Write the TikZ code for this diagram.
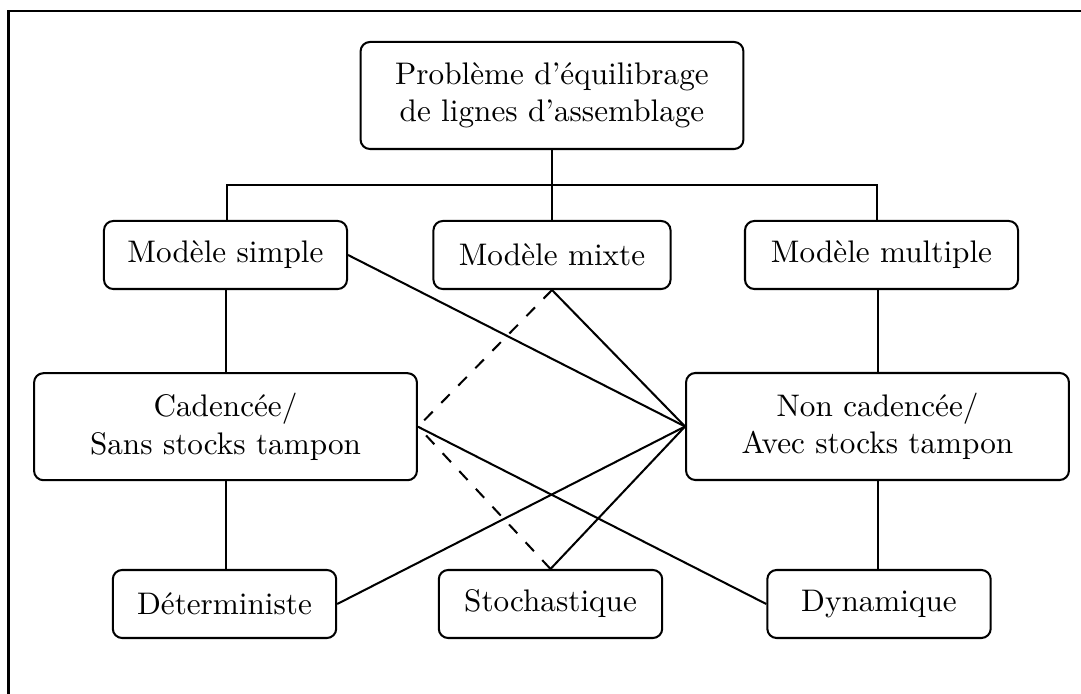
\documentclass[tikz,border=0pt]{standalone}
\usepackage{tikz}
\begin{document}
\begin{tikzpicture}[x=0.3205pt,y=-0.3205pt,
  box/.style={draw,rounded corners=3pt,line width=0.65pt,inner sep=0pt,align=center,font=\normalsize},
  wide/.style={box,minimum width=122.7pt,minimum height=34.3pt},
  small/.style={box,minimum width=71.6pt,minimum height=21.8pt},
  link/.style={line width=0.65pt},
  dlink/.style={line width=0.65pt,dash pattern=on 3.9pt off 3.9pt}]
\useasboundingbox (0,0) rectangle (1081,694);
\draw[line width=0.65pt] (8.5,720) -- (8.5,11) -- (1110,11);

\node[wide] (top) at (552,95.5) {Problème d'équilibrage\\de lignes d'assemblage};
\node[small,minimum width=77.9pt] (simple) at (225.5,255) {Modèle simple};
\node[small,minimum width=76pt] (mixte) at (552,255) {Modèle mixte};
\node[small,minimum width=87.5pt] (multiple) at (881.5,255) {Modèle multiple};
\node[wide] (cad) at (225.5,426.7) {Cadencée/\\Sans stocks tampon};
\node[wide] (noncad) at (877.5,426.5) {Non cadencée/\\Avec stocks tampon};
\node[small] (det) at (224.5,604) {Déterministe};
\node[small] (sto) at (550.5,604) {Stochastique};
\node[small] (dyn) at (879,604) {Dynamique};

\coordinate (bar) at (552,185);
\coordinate (jl) at (227,185);
\coordinate (jr) at (877,185);
\draw[link] (top.south) -- (bar);
\draw[link] (jl |- simple.north) -- (jl) -- (jr) -- (jr |- multiple.north);
\draw[link] (bar) -- (mixte.north);

\coordinate (v1) at (226,0);
\coordinate (v2) at (226,0);
\coordinate (v3) at (878,0);
\draw[link] (v1 |- simple.south) -- (v1 |- cad.north);
\draw[link] (v2 |- cad.south) -- (v2 |- det.north);
\draw[link] (v3 |- multiple.south) -- (v3 |- noncad.north);
\draw[link] (v3 |- noncad.south) -- (v3 |- dyn.north);

\draw[link] (simple.east) -- (noncad.west);
\draw[link] (mixte.south) -- (noncad.west);
\draw[link] (det.east) -- (noncad.west);
\draw[link] (sto.north) -- (noncad.west);
\draw[link] (cad.east) -- (dyn.west);
\draw[dlink] (mixte.south) -- (cad.east);
\draw[dlink] (sto.north) -- (cad.east);
\end{tikzpicture}
\end{document}
